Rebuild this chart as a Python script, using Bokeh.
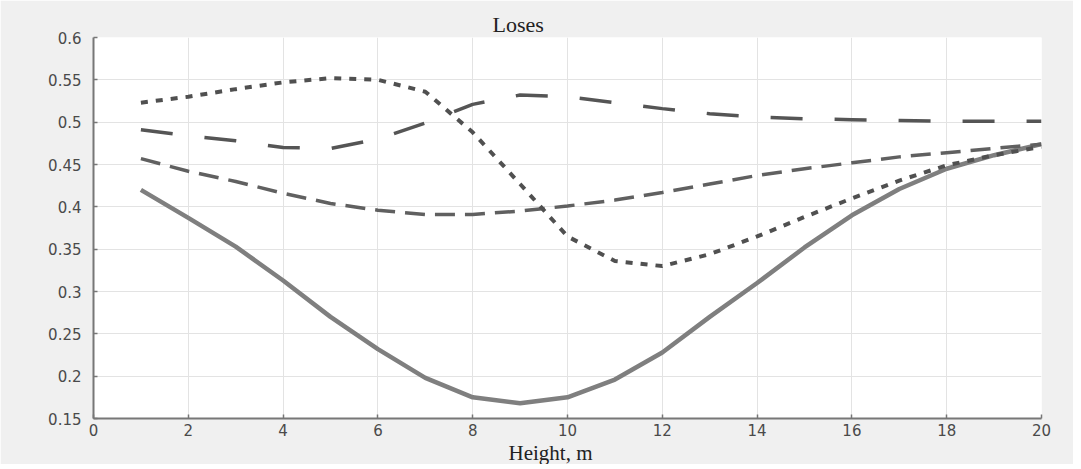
from bokeh.plotting import figure
from bokeh.models import FixedTicker, Title, ColumnDataSource
from bokeh.embed import file_html
from bokeh.resources import INLINE

# ---- data ----
height_m = list(range(1, 21))
loss_solid = [0.420, 0.387, 0.353, 0.313, 0.270, 0.232, 0.198, 0.175, 0.168, 0.175,
              0.196, 0.228, 0.270, 0.310, 0.352, 0.390, 0.421, 0.445, 0.461, 0.474]
loss_dotted = [0.523, 0.530, 0.539, 0.547, 0.552, 0.550, 0.536, 0.488, 0.427, 0.365,
               0.336, 0.330, 0.344, 0.365, 0.388, 0.410, 0.431, 0.449, 0.461, 0.471]
loss_longdash = [0.491, 0.484, 0.478, 0.470, 0.469, 0.480, 0.499, 0.521, 0.532, 0.530,
                 0.523, 0.516, 0.510, 0.506, 0.504, 0.503, 0.502, 0.501, 0.501, 0.501]
loss_dash = [0.457, 0.442, 0.430, 0.416, 0.404, 0.396, 0.391, 0.391, 0.395, 0.401,
             0.408, 0.417, 0.427, 0.437, 0.445, 0.452, 0.459, 0.464, 0.469, 0.474]

x_ticks = [0, 2, 4, 6, 8, 10, 12, 14, 16, 18, 20]
x_tick_labels = ["0", "2", "4", "6", "8", "10", "12", "14", "16", "18", "20"]
y_ticks = [0.15, 0.2, 0.25, 0.3, 0.35, 0.4, 0.45, 0.5, 0.55, 0.6]
y_tick_labels = ["0.15", "0.2", "0.25", "0.3", "0.35", "0.4", "0.45", "0.5", "0.55", "0.6"]
title_text = "Loses"
x_label_text = "Height, m"

src = ColumnDataSource(dict(x=height_m, s=loss_solid, d=loss_dotted,
                            ld=loss_longdash, md=loss_dash))

p = figure(width=1073, height=461, output_backend="svg", toolbar_location=None,
           x_range=(0, 20), y_range=(0.15, 0.6),
           min_border_left=93, min_border_right=32, min_border_top=37, min_border_bottom=43)
p.frame_width = 948
p.frame_height = 381

p.background_fill_color = "white"
p.border_fill_color = "#f0f0f0"
p.outline_line_color = None

p.title.text = title_text
p.title.align = "left"
p.title.offset = 399
p.title.standoff = 2
p.title.text_font = "Liberation Serif"
p.title.text_font_size = "22px"
p.title.text_font_style = "normal"
p.title.text_color = "#222222"

p.xaxis.ticker = FixedTicker(ticks=x_ticks)
p.yaxis.ticker = FixedTicker(ticks=y_ticks)
p.xaxis.major_label_overrides = {t: l for t, l in zip(x_ticks, x_tick_labels)}
p.yaxis.major_label_overrides = {t: l for t, l in zip(y_ticks, y_tick_labels)}

for ax in (p.xaxis, p.yaxis):
    ax.axis_line_color = "#777777"
    ax.axis_line_width = 2
    ax.major_tick_line_color = "#777777"
    ax.major_tick_line_width = 1.5
    ax.major_tick_in = 4
    ax.major_tick_out = 0
    ax.minor_tick_line_color = None
    ax.major_label_text_font = "DejaVu Sans"
    ax.major_label_text_font_size = "15px"
    ax.major_label_text_color = "#4a4a4a"
p.xaxis.major_label_standoff = 5
p.yaxis.major_label_standoff = 12

p.add_layout(Title(text=x_label_text, align="left", offset=415, standoff=0,
                   text_font="Liberation Serif", text_font_size="21px",
                   text_font_style="normal", text_color="#222222"), "below")

p.xgrid.grid_line_color = "#e3e3e3"
p.ygrid.grid_line_color = "#e3e3e3"
p.xgrid.grid_line_width = 1
p.ygrid.grid_line_width = 1

p.line("x", "s", source=src, line_color="#7f7f7f", line_width=4.5)
p.line("x", "md", source=src, line_color="#606060", line_width=3.5, line_dash="20 10")
p.line("x", "ld", source=src, line_color="#555555", line_width=3.5, line_dash="32 32")
p.line("x", "d", source=src, line_color="#505050", line_width=4, line_dash="7 8")

open("out.html", "w").write(file_html(p, INLINE))
